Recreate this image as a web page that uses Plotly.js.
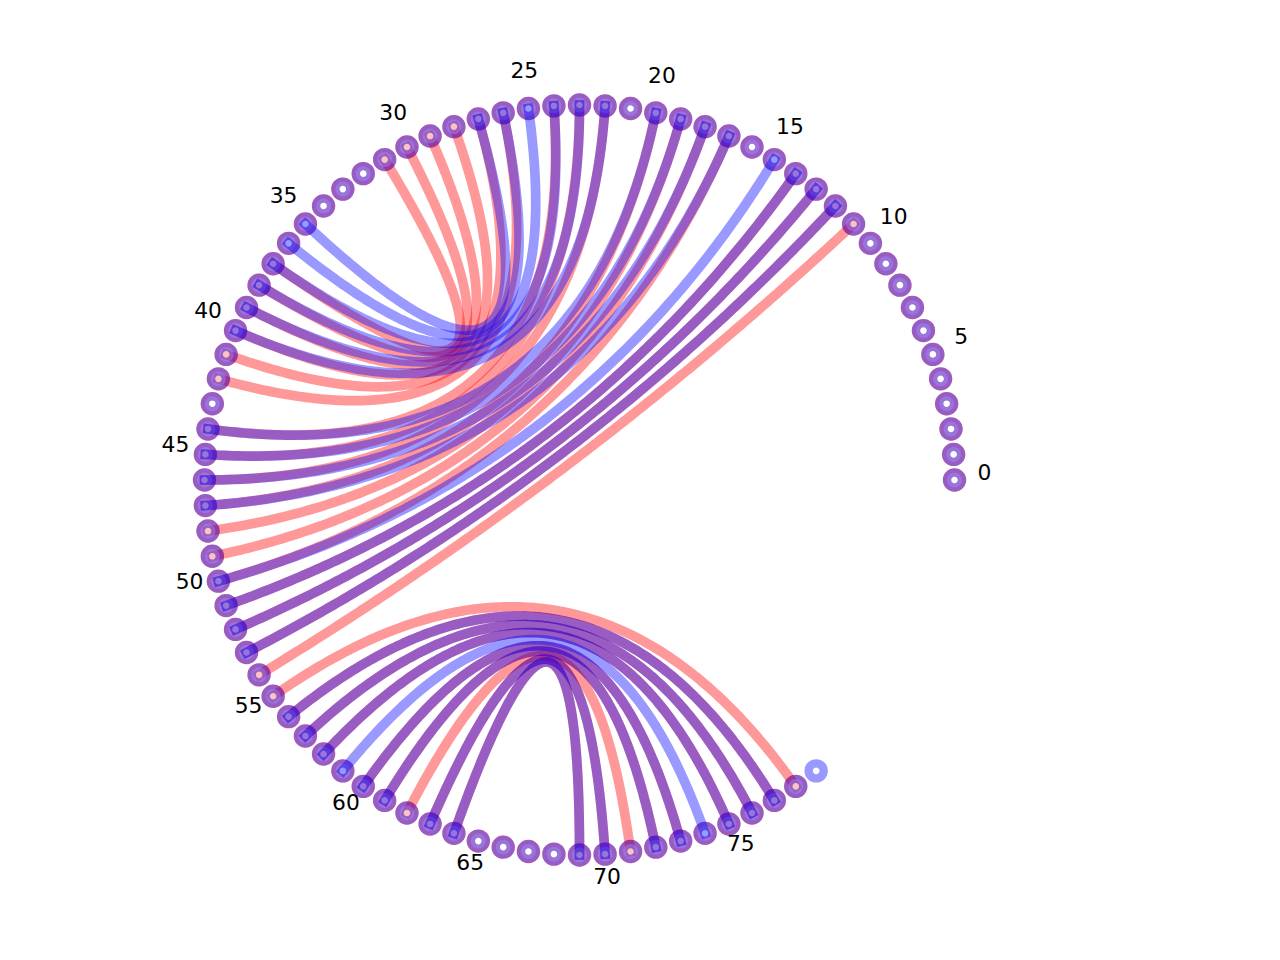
<!DOCTYPE html>
<html><head><meta charset="utf-8">
<script src="https://cdn.plot.ly/plotly-3.0.1.min.js"></script>
<style>
html,body{margin:0;padding:0;background:#fff;}
#chart{width:1280px;height:960px;}
.scatterlayer .js-line{stroke-linecap:square;}
</style></head><body><div id="chart"></div>
<script>
// ---- data ----
const redNodeCount = 79;
const blueNodeCount = 80;
const redFrom  = [11,12,13,14,17,18,19,20,22,23,24,26,27,28,29,30,31,55,56,57,58,60,61,62,63,64];
const redTo    = [54,53,52,51,50,49,48,47,46,45,44,42,41,40,39,38,37,78,77,76,75,73,72,71,70,69];
const blueFrom = [12,13,14,15,17,18,19,20,22,23,24,25,26,27,56,57,58,59,60,61,63,64];
const blueTo   = [53,52,51,50,47,46,45,44,40,39,38,37,36,35,77,76,75,74,73,72,70,69];
const tickLabels = [0,5,10,15,20,25,30,35,40,45,50,55,60,65,70,75];

// ---- layout constants ----
const W = 1280, H = 960, CX = 579.5, CY = 480, R = 375;
const SLOTS = 92;
const RED = 'rgba(255,0,0,0.4)', BLUE = 'rgba(0,0,255,0.4)';
const FACE = 'rgba(255,255,255,0.4)';
const LW = 9.7, MS = 15, MLW = 8.4;
const FONT = 21.8;

function ang(i){ return i * 2 * Math.PI / SLOTS; }
function pos(i, r){ r = r || 1; return [r*Math.cos(ang(i)), r*Math.sin(ang(i))]; }

function nodeTrace(n, color){
  const xs = [], ys = [];
  for (let i = 0; i < n; i++){ const p = pos(i); xs.push(p[0]); ys.push(p[1]); }
  return {type:'scatter', mode:'markers', x:xs, y:ys, hoverinfo:'skip',
    marker:{symbol:'circle', size:MS, color:FACE, line:{color:color, width:MLW}}};
}
function chordTrace(a, b, color){
  const p0 = pos(a), p2 = pos(b); // quadratic Bezier, control point at circle centre
  const xs = [], ys = [], N = 160;
  for (let k = 0; k <= N; k++){
    const t = k / N, u = 1 - t;
    xs.push(u*u*p0[0] + t*t*p2[0]);
    ys.push(u*u*p0[1] + t*t*p2[1]);
  }
  return {type:'scatter', mode:'lines', x:xs, y:ys, hoverinfo:'skip',
    line:{color:color, width:LW, simplify:false, shape:'linear'}};
}

const traces = [];
traces.push(nodeTrace(redNodeCount, RED));
redFrom.forEach((a, k) => traces.push(chordTrace(a, redTo[k], RED)));
traces.push(nodeTrace(blueNodeCount, BLUE));
blueFrom.forEach((a, k) => traces.push(chordTrace(a, blueTo[k], BLUE)));

const lx = [], ly = [];
const lift = 0.27 * FONT / R;
tickLabels.forEach(v => { const p = pos(v, 1.08); lx.push(p[0]); ly.push(p[1] + lift); });
traces.push({type:'scatter', mode:'text', x:lx, y:ly, text:tickLabels.map(String),
  textposition:'middle center', hoverinfo:'skip',
  textfont:{family:'DejaVu Sans', size:FONT, color:'#000'}});

const layout = {
  width:W, height:H, margin:{l:0, r:0, t:0, b:0},
  paper_bgcolor:'#fff', plot_bgcolor:'#fff', showlegend:false, hovermode:false,
  xaxis:{range:[-CX/R, (W-CX)/R], visible:false, fixedrange:true},
  yaxis:{range:[-(H-CY)/R, CY/R], visible:false, fixedrange:true}
};
Plotly.newPlot('chart', traces, layout, {displayModeBar:false, staticPlot:true});
</script></body></html>
